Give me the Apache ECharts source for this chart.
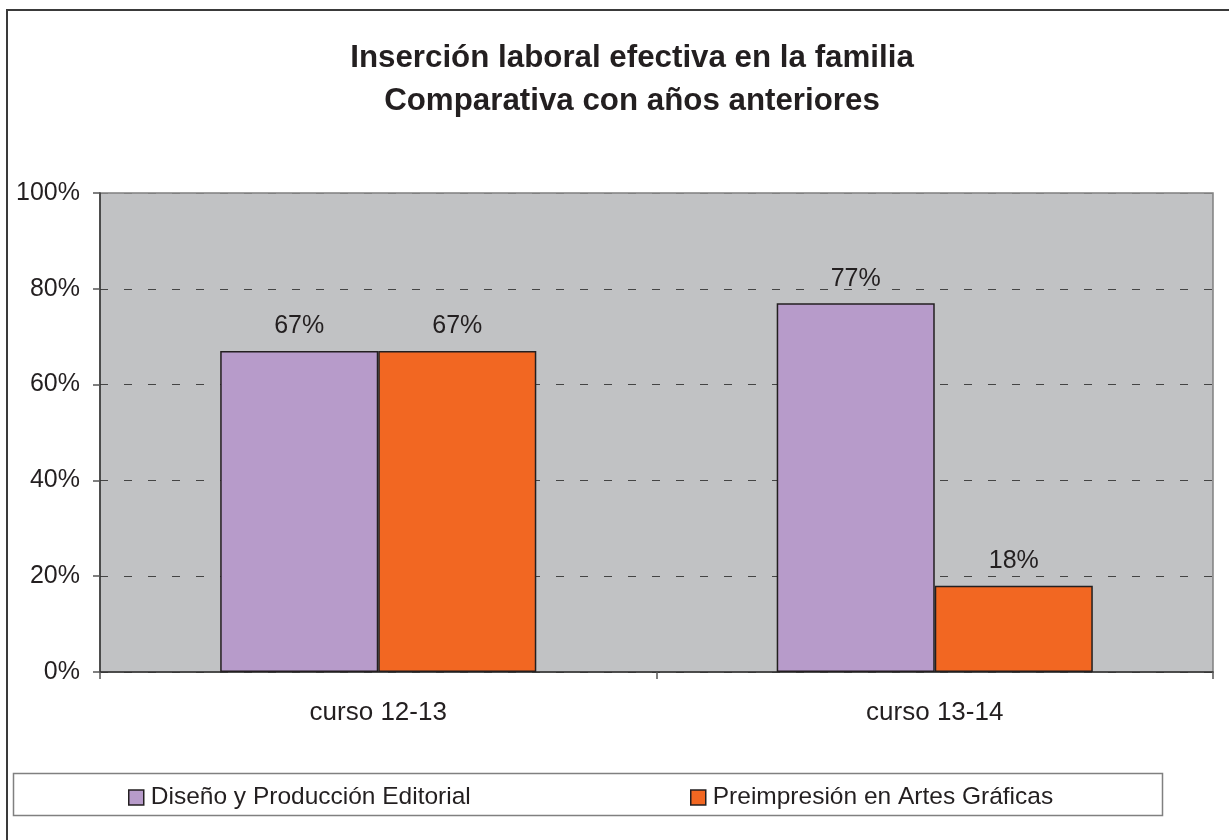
<!DOCTYPE html>
<html>
<head>
<meta charset="utf-8">
<script src="https://cdn.jsdelivr.net/npm/echarts@6/dist/echarts.min.js"></script>
<style>
html,body{margin:0;padding:0;background:#fff;}
#chart{width:1229px;height:840px;}
</style>
</head>
<body>
<div id="chart"></div>
<script>
const titleLines = ['Inserción laboral efectiva en la familia', 'Comparativa con años anteriores'];
const categories = ['curso 12-13', 'curso 13-14'];
const seriesNames = ['Diseño y Producción Editorial', 'Preimpresión en Artes Gráficas'];
const disenoValues = [67, 77];
const preimpresionValues = [67, 18];
const yTicks = [0, 20, 40, 60, 80, 100];

const FONT = '"Liberation Sans", Arial, sans-serif';
const TXT = '#231F20';
const colors = ['#B79BCA', '#F26722'];

const chart = echarts.init(document.getElementById('chart'));
const option = {
  animation: false,
  backgroundColor: '#ffffff',
  textStyle: { fontFamily: FONT, color: TXT },
  title: {
    text: titleLines.join('\n'),
    left: 627,
    top: 32,
    textAlign: 'center',
    textStyle: { fontFamily: FONT, fontSize: 31.3, fontWeight: 'bold', color: TXT, lineHeight: 43 }
  },
  graphic: [
    { type: 'rect', shape: { x: 7, y: 10, width: 1240, height: 850 }, style: { fill: 'none', stroke: '#3a3a3a', lineWidth: 2 }, z: 100, silent: true },
    { type: 'rect', shape: { x: 13.5, y: 773.5, width: 1149, height: 42 }, style: { fill: 'none', stroke: '#808080', lineWidth: 1.5 }, z: 100, silent: true }
  ],
  legend: [
    { data: [seriesNames[0]], left: 128, top: 785, icon: 'rect', itemWidth: 15, itemHeight: 15, itemGap: 0, padding: 0,
      textStyle: { fontFamily: FONT, fontSize: 24.5, color: TXT, padding: [0, 0, 0, 2] },
      itemStyle: { borderColor: TXT, borderWidth: 1.5 } },
    { data: [seriesNames[1]], left: 690, top: 785, icon: 'rect', itemWidth: 15, itemHeight: 15, itemGap: 0, padding: 0,
      textStyle: { fontFamily: FONT, fontSize: 24.5, color: TXT, padding: [0, 0, 0, 2] },
      itemStyle: { borderColor: TXT, borderWidth: 1.5 } }
  ],
  grid: {
    left: 100, right: 16, top: 193, bottom: 168,
    show: true, backgroundColor: '#C1C2C4', borderColor: '#808080', borderWidth: 1.5
  },
  xAxis: {
    type: 'category',
    data: categories,
    axisLine: { show: true, lineStyle: { color: '#333', width: 1.5 } },
    axisTick: { show: true, alignWithLabel: false, length: 7, lineStyle: { color: '#555', width: 1.5 } },
    axisLabel: { fontFamily: FONT, fontSize: 26, color: TXT, margin: 28 }
  },
  yAxis: {
    type: 'value',
    min: 0, max: 100, interval: 20,
    axisLine: { show: true, lineStyle: { color: '#333', width: 1.5 } },
    axisTick: { show: true, length: 7, lineStyle: { color: '#555', width: 1.5 } },
    axisLabel: { fontFamily: FONT, fontSize: 25, color: TXT, margin: 20, formatter: '{value}%' },
    splitLine: { show: true, lineStyle: { color: ['#444', '#444', '#444', '#444', '#444', '#808080'], width: 1, type: [8, 16] } }
  },
  series: [
    {
      name: seriesNames[0], type: 'bar', data: disenoValues,
      barWidth: '28.4%', barGap: '0%',
      itemStyle: { color: colors[0], borderColor: TXT, borderWidth: 1.5 },
      label: { show: true, position: 'top', distance: 12, formatter: '{c}%', fontFamily: FONT, fontSize: 25, color: TXT }
    },
    {
      name: seriesNames[1], type: 'bar', data: preimpresionValues,
      barWidth: '28.4%', barGap: '0%',
      itemStyle: { color: colors[1], borderColor: TXT, borderWidth: 1.5 },
      label: { show: true, position: 'top', distance: 12, formatter: '{c}%', fontFamily: FONT, fontSize: 25, color: TXT }
    }
  ]
};
chart.setOption(option);
</script>
</body>
</html>
